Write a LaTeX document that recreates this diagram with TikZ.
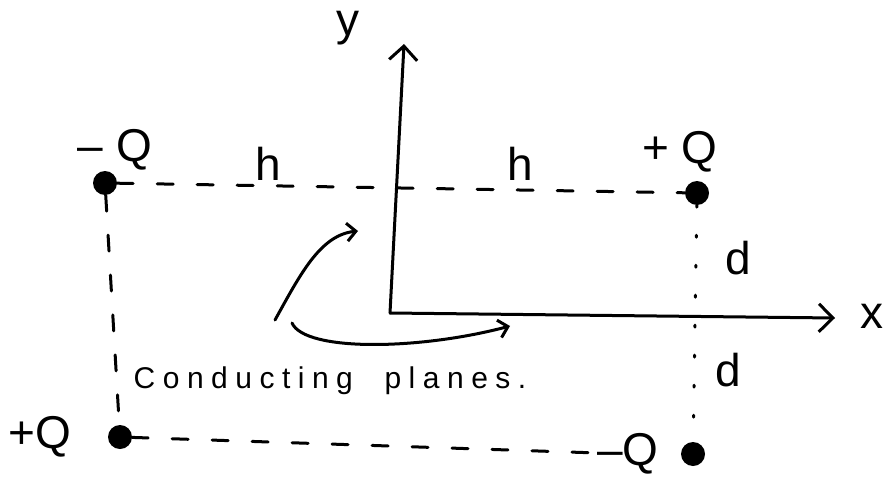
\documentclass[tikz,border=0pt]{standalone}
\usepackage{fontspec}
\setmainfont{Liberation Sans}
\newfontfamily\spacedfont[LetterSpace=25]{Liberation Sans}
\usetikzlibrary{arrows.meta}
\begin{document}
\begin{tikzpicture}[x=1pt,y=-1pt,
  ink/.style={line width=3pt,line cap=round,line join=round},
  axis/.style={ink,-{Straight Barb[length=14pt,width=28pt,line width=3pt]}},
  curvearrow/.style={ink,-{Straight Barb[length=9pt,width=18pt,line width=3pt]}},
  charge/.style={circle,fill=black,inner sep=0pt,minimum size=24pt},
  guide/.style={ink,dash pattern=on 16pt off 24pt},
  dotline/.style={ink,dash pattern=on 2pt off 28pt},
  lbl/.style={inner sep=1pt,font=\fontsize{46}{50}\selectfont},
  small/.style={inner sep=1pt,font=\spacedfont\fontsize{30}{34}\selectfont}]
\useasboundingbox (0,0) rectangle (890,476);
% axes
\coordinate (O) at (390,313);
\coordinate (Ytip) at (404,44);
\coordinate (Xtip) at (835,318);
\draw[axis] (O) -- (Ytip);
\draw[axis] (O) -- (Xtip);
\node[lbl] (ylab) at (348,28) {y};
\node[lbl] (xlab) at (872,316) {x};
% charges
\node[charge] (qTL) at (105,183) {};
\node[charge] (qTR) at (697,193) {};
\node[charge] (qBL) at (120,437) {};
\node[charge] (qBR) at (693,454) {};
\node[lbl] (lTL) at (115,150) {-- Q};
\node[lbl] (lTR) at (680,152) {+ Q};
\node[lbl] (lBL) at (40,437) {+Q};
\node[lbl] (lBR) at (628,454) {--Q};
% guide lines
\draw[guide] (qTL) -- (qTR);
\draw[guide] (qTL) -- (qBL);
\draw[guide] (qBL) -- (lBR);
\draw[dotline] (qTR) -- (qBR);
% distance labels
\node[lbl] (h1) at (268,164) {h};
\node[lbl] (h2) at (520,164) {h};
\node[lbl] (d1) at (738,258) {d};
\node[lbl] (d2) at (728,370) {d};
% conducting planes
\node[small] (cp) at (330,381) {Conducting\ \ planes.};
\coordinate (s1) at (275,320);
\coordinate (e1) at (358,231);
\coordinate (s2) at (292,323);
\coordinate (e2) at (510,326);
\draw[curvearrow] (s1) .. controls (300,275) and (320,235) .. (e1);
\draw[curvearrow] (s2) .. controls (305,352) and (420,350) .. (e2);
\end{tikzpicture}
\end{document}
